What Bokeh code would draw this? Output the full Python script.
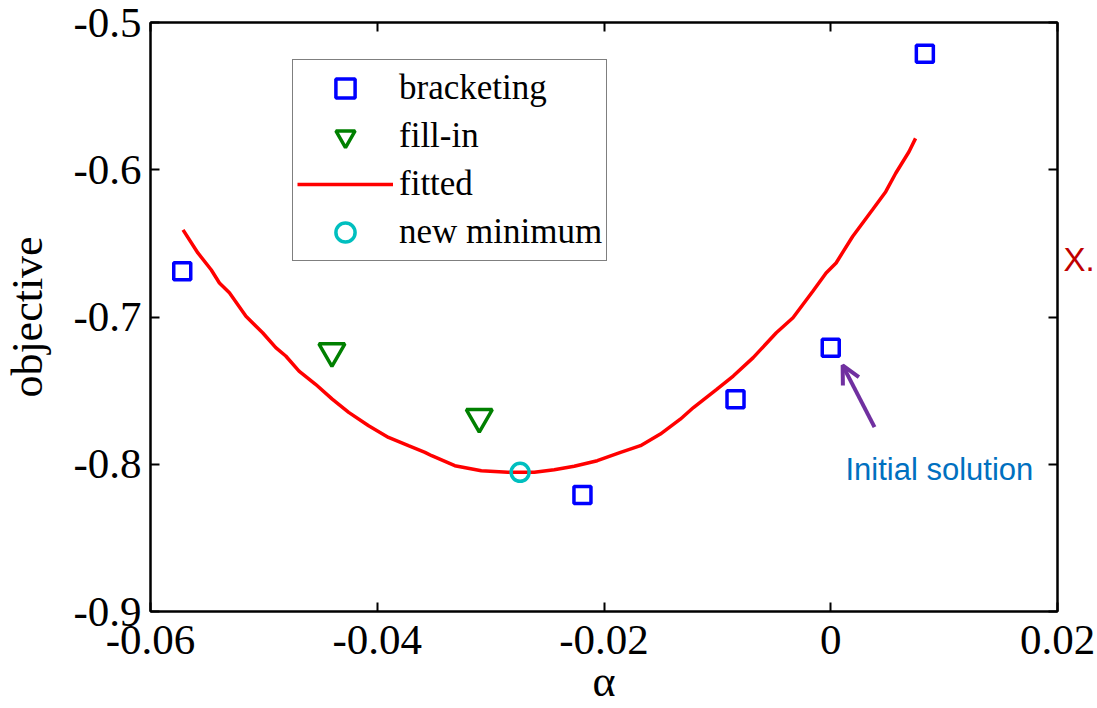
from bokeh.plotting import figure
from bokeh.models import (Range1d, LinearAxis, FixedTicker, Legend, LegendItem,
                          Label, Arrow, OpenHead)
from bokeh.embed import file_html
from bokeh.resources import INLINE

# ---- data ----
bracket_x = [-0.0572, -0.0219, -0.0084, 0.0000, 0.0083]
bracket_y = [-0.6690, -0.8208, -0.7558, -0.7208, -0.5212]

fill_x = [-0.0440, -0.0310]
fill_y = [-0.7233, -0.7680]

fit_x = [-0.05713, -0.05582, -0.05465, -0.05392, -0.05304, -0.05158, -0.05011,
         -0.04895, -0.04807, -0.04690, -0.04544, -0.04397, -0.04252, -0.04076,
         -0.03901, -0.03725, -0.03579, -0.03520, -0.03316, -0.03082, -0.02848,
         -0.02614, -0.02439, -0.02263, -0.02059, -0.01854, -0.01678, -0.01503,
         -0.01327, -0.01211, -0.01006, -0.00860, -0.00684, -0.00480, -0.00333,
         -0.00158, -0.00041, 0.00047, 0.00193, 0.00368, 0.00485, 0.00573,
         0.00690, 0.00748]
fit_y = [-0.6408, -0.6565, -0.6679, -0.6769, -0.6836, -0.6995, -0.7107,
         -0.7208, -0.7265, -0.7367, -0.7457, -0.7558, -0.7648, -0.7739,
         -0.7818, -0.7874, -0.7919, -0.7942, -0.8010, -0.8044, -0.8055,
         -0.8055, -0.8037, -0.8014, -0.7976, -0.7919, -0.7874, -0.7795,
         -0.7694, -0.7615, -0.7491, -0.7401, -0.7276, -0.7107, -0.7005,
         -0.6825, -0.6701, -0.6633, -0.6453, -0.6272, -0.6149, -0.6024,
         -0.5878, -0.5787]

newmin_x = [-0.0274]
newmin_y = [-0.8055]

x_ticks = [-0.06, -0.04, -0.02, 0.0, 0.02]
x_tick_labels = ["-0.06", "-0.04", "-0.02", "0", "0.02"]
y_ticks = [-0.9, -0.8, -0.7, -0.6, -0.5]
y_tick_labels = ["-0.9", "-0.8", "-0.7", "-0.6", "-0.5"]

arrow_start = (0.00386, -0.7748)
arrow_end = (0.00105, -0.7328)
note_text = "Initial solution"
note_pos = (0.00130, -0.8037)
side_text = "X."
side_y = -0.6611
x_title = "α"
y_title = "objective"

SERIF = "Liberation Serif"
SANS = "Liberation Sans"

p = figure(width=1097, height=708, output_backend="svg", toolbar_location=None,
           x_range=Range1d(-0.06, 0.02), y_range=Range1d(-0.9, -0.5),
           min_border_left=144, min_border_right=40, min_border_top=22,
           min_border_bottom=95)
p.grid.visible = False
p.outline_line_color = "black"
p.outline_line_width = 2
p.background_fill_color = "white"
p.border_fill_color = "white"

xl = {}
for i, t in enumerate(x_ticks):
    xl[t] = x_tick_labels[i]
yl = {}
for i, t in enumerate(y_ticks):
    yl[t] = y_tick_labels[i]


def style_axis(ax, ticks, labels_on, overrides=None, standoff=8):
    ax.ticker = FixedTicker(ticks=ticks)
    ax.major_tick_in = 9
    ax.major_tick_out = 0
    ax.minor_tick_line_color = None
    ax.axis_line_width = 2
    ax.major_tick_line_width = 2
    ax.axis_line_color = "black"
    ax.major_tick_line_color = "black"
    if labels_on:
        ax.major_label_text_font = SERIF
        ax.major_label_text_font_size = "43px"
        ax.major_label_text_color = "black"
        ax.major_label_standoff = standoff
        ax.major_label_overrides = overrides
    else:
        ax.major_label_text_font_size = "1px"
        ax.major_label_text_color = None
        ax.major_label_standoff = 0


style_axis(p.xaxis[0], x_ticks, True, xl, standoff=14)
p.xaxis[0].axis_label = x_title
p.xaxis[0].axis_label_text_font = SERIF
p.xaxis[0].axis_label_text_font_size = "44px"
p.xaxis[0].axis_label_text_font_style = "normal"
p.xaxis[0].axis_label_text_color = "black"
p.xaxis[0].axis_label_standoff = 0

style_axis(p.yaxis[0], y_ticks, True, yl, standoff=9)
p.yaxis[0].axis_label = y_title
p.yaxis[0].axis_label_text_font = SERIF
p.yaxis[0].axis_label_text_font_size = "44px"
p.yaxis[0].axis_label_text_font_style = "normal"
p.yaxis[0].axis_label_text_color = "black"
p.yaxis[0].axis_label_standoff = 18

top_ax = LinearAxis()
style_axis(top_ax, x_ticks, False)
p.add_layout(top_ax, "above")
right_ax = LinearAxis()
style_axis(right_ax, y_ticks, False)
p.add_layout(right_ax, "right")

# red side note, drawn as the label of an extra right-hand axis
side_ax = LinearAxis(ticker=FixedTicker(ticks=[side_y]),
                     major_label_overrides={side_y: side_text})
side_ax.axis_line_color = None
side_ax.major_tick_line_color = None
side_ax.minor_tick_line_color = None
side_ax.major_tick_in = 0
side_ax.major_tick_out = 0
side_ax.major_label_standoff = 6
side_ax.major_label_text_font = SANS
side_ax.major_label_text_font_size = "33px"
side_ax.major_label_text_color = "#c00000"
p.add_layout(side_ax, "right")

fit_r = p.line(fit_x, fit_y, line_color="#ff0000", line_width=3.5)
br_r = p.scatter(bracket_x, bracket_y, marker="square", size=17,
                 fill_color=None, line_color="#0000ff", line_width=3.5)
fi_r = p.scatter(fill_x, fill_y, marker="inverted_triangle", size=26,
                 fill_color=None, line_color="#008000", line_width=3.5)
nm_r = p.scatter(newmin_x, newmin_y, marker="circle", size=18,
                 fill_color=None, line_color="#00bfbf", line_width=3.5)

legend = Legend(items=[LegendItem(label="bracketing", renderers=[br_r]),
                       LegendItem(label="fill-in", renderers=[fi_r]),
                       LegendItem(label="fitted", renderers=[fit_r]),
                       LegendItem(label="new minimum", renderers=[nm_r])],
                location=(142, 350))
legend.label_text_font = SERIF
legend.label_text_font_size = "35px"
legend.label_text_color = "black"
legend.label_height = 40
legend.glyph_height = 48
legend.glyph_width = 96
legend.label_standoff = 6
legend.spacing = -1
legend.padding = 4
legend.margin = 0
legend.border_line_color = "black"
legend.border_line_width = 1.5
legend.background_fill_color = "white"
legend.background_fill_alpha = 1
p.add_layout(legend, "center")

p.add_layout(Arrow(end=OpenHead(size=18, line_color="#7030a0", line_width=4),
                   x_start=arrow_start[0], y_start=arrow_start[1],
                   x_end=arrow_end[0], y_end=arrow_end[1],
                   line_color="#7030a0", line_width=4))

p.add_layout(Label(x=note_pos[0], y=note_pos[1], text=note_text,
                   text_font=SANS, text_font_size="31px", text_color="#0070c0",
                   text_baseline="alphabetic", text_align="left"))

open("out.html", "w").write(file_html(p, INLINE))
